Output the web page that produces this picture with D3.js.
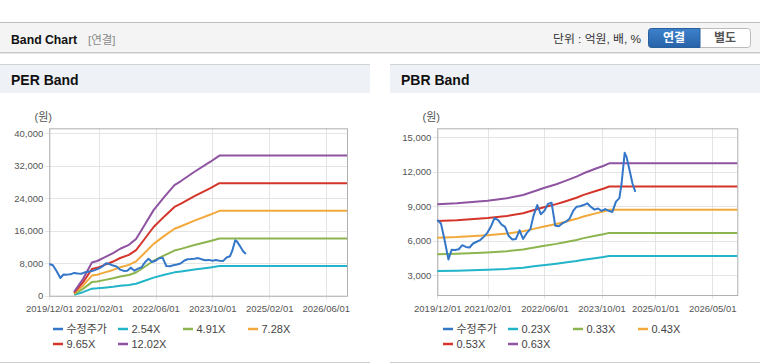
<!DOCTYPE html>
<html><head><meta charset="utf-8">
<script src="https://cdn.jsdelivr.net/npm/d3@7"></script>
<style>
body{margin:0;background:#fff;}
svg{display:block;font-family:'Liberation Sans','Noto Sans CJK KR',sans-serif;}
</style>
</head><body><svg id="c" width="760" height="364"></svg>
<script>
// ---------------- DATA ----------------
const priceDates = ["2019-12-01","2020-01-01","2020-02-01","2020-03-05","2020-04-01","2020-05-01","2020-06-01","2020-07-01","2020-08-01","2020-09-01","2020-10-01","2020-11-01","2020-12-01","2021-01-01","2021-02-01","2021-03-01","2021-04-01","2021-05-01","2021-06-01","2021-07-01","2021-08-01","2021-09-01","2021-10-01","2021-11-01","2021-12-01","2022-01-01","2022-02-01","2022-03-01","2022-04-01","2022-05-01","2022-06-01","2022-07-01","2022-08-01","2022-09-01","2022-10-01","2022-11-01","2022-12-01","2023-01-01","2023-02-01","2023-03-01","2023-04-01","2023-05-01","2023-06-01","2023-07-01","2023-08-01","2023-09-01","2023-10-01","2023-11-01","2023-12-01","2024-01-01","2024-02-01","2024-03-01","2024-03-20","2024-04-15","2024-05-01","2024-06-01","2024-06-20","2024-07-15"];
const priceValues = [7800,7500,6050,4350,5200,5180,5250,5600,5450,5400,5750,5900,6050,6350,6700,7200,7950,7800,7400,7200,6400,6100,6150,6900,6150,6650,7000,8200,9100,8300,8600,9200,9300,7300,7250,7500,7650,7900,8600,8950,9000,9100,9250,8950,8700,8800,8600,8750,8600,8500,9400,9700,11000,13650,13300,11900,11000,10250];

const perBandDates = ["2020-07-01","2020-09-15","2020-12-01","2021-01-15","2021-03-15","2021-06-01","2021-08-01","2021-10-15","2021-12-15","2022-02-15","2022-05-15","2022-08-15","2022-11-10","2023-01-05","2023-05-01","2023-09-15","2023-12-01","2026-12-01"];
const perBand254 = [203,864,1727,1803,1981,2210,2438,2642,2946,3556,4445,5131,5740,5956,6439,6960,7277,7277];
const perBand491 = [393,1669,3339,3486,3830,4272,4714,5106,5696,6874,8593,9918,11097,11514,12447,13453,14067,14067];
const perBand728 = [582,2475,4950,5169,5678,6334,6989,7571,8445,10192,12740,14706,16453,17072,18455,19947,20857,20857];
const perBand965 = [772,3281,6562,6852,7527,8396,9264,10036,11194,13510,16888,19493,21809,22629,24463,26441,27647,27647];
const perBand1202 = [962,4087,8174,8534,9376,10457,11539,12501,13943,16828,21035,24280,27165,28187,30471,32935,34437,34437];
const perLabels = ["수정주가","2.54X","4.91X","7.28X","9.65X","12.02X"];

const pbrBandDates = ["2019-12-01","2020-05-15","2021-02-01","2021-07-15","2021-12-01","2022-03-20","2022-05-20","2022-09-10","2022-11-10","2023-03-01","2023-05-01","2023-08-20","2023-10-15","2023-12-05","2026-12-01"];
const pbrBand023 = [3347,3379,3462,3537,3641,3779,3855,3984,4066,4225,4333,4492,4566,4651,4651];
const pbrBand033 = [4802,4848,4967,5075,5224,5422,5531,5716,5834,6062,6217,6445,6551,6673,6673];
const pbrBand043 = [6257,6317,6472,6613,6807,7065,7207,7448,7602,7899,8101,8398,8536,8695,8695];
const pbrBand053 = [7712,7786,7977,8151,8390,8708,8883,9180,9370,9736,9985,10351,10521,10717,10717];
const pbrBand063 = [9167,9255,9482,9689,9973,10351,10559,10912,11138,11573,11869,12304,12506,12739,12739];
const pbrLabels = ["수정주가","0.23X","0.33X","0.43X","0.53X","0.63X"];

const perYTicks = [0,8000,16000,24000,32000,40000];
const perXTicks = ["2019/12/01","2021/02/01","2022/06/01","2023/10/01","2025/02/01","2026/06/01"];
const pbrYTicks = [3000,6000,9000,12000,15000];
const pbrXTicks = ["2019/12/01","2021/02/01","2022/06/01","2023/10/01","2025/01/01","2026/05/01"];

const colors = ["#3477c9","#22b5c9","#8cb54f","#f2a93b","#d4352b","#8e53a1"];

// ---------------- DRAW ----------------
const svg = d3.select("#c");
svg.append("rect").attr("width",760).attr("height",364).attr("fill","#fff");

// top header bar
svg.append("rect").attr("x",0).attr("y",22).attr("width",760).attr("height",31).attr("fill","#f4f4f4");
svg.append("line").attr("x1",0).attr("x2",760).attr("y1",22.5).attr("y2",22.5).attr("stroke","#bdbdbd");
svg.append("line").attr("x1",0).attr("x2",760).attr("y1",52.5).attr("y2",52.5).attr("stroke","#c9c9c9");
svg.append("line").attr("x1",0).attr("x2",760).attr("y1",53.5).attr("y2",53.5).attr("stroke","#e6e6e6");
svg.append("text").attr("x",11).attr("y",44).attr("font-size",13.5).attr("font-weight","bold")
  .attr("fill","#111").attr("textLength",66).attr("lengthAdjust","spacingAndGlyphs").text("Band Chart");
svg.append("text").attr("x",88).attr("y",43.5).attr("font-size",11.5).attr("fill","#8a8a8a").text("[연결]");
svg.append("text").attr("x",553).attr("y",43).attr("font-size",11.5).attr("fill","#333")
  .attr("textLength",88).attr("lengthAdjust","spacingAndGlyphs").text("단위 : 억원, 배, %");
const defs = svg.append("defs");
const grad = defs.append("linearGradient").attr("id","btn").attr("x1",0).attr("x2",0).attr("y1",0).attr("y2",1);
grad.append("stop").attr("offset","0%").attr("stop-color","#3d82cc");
grad.append("stop").attr("offset","100%").attr("stop-color","#2762a8");
svg.append("rect").attr("x",648.5).attr("y",28.5).attr("width",102).attr("height",19).attr("rx",3)
  .attr("fill","#fff").attr("stroke","#bbb");
svg.append("path").attr("d","M651.5,28.5 H700 V47.5 H651.5 Q648.5,47.5 648.5,44.5 V31.5 Q648.5,28.5 651.5,28.5 Z")
  .attr("fill","url(#btn)").attr("stroke","#2a5f9e");
svg.append("text").attr("x",674).attr("y",42).attr("text-anchor","middle").attr("font-size",12)
  .attr("font-weight","bold").attr("fill","#fff").text("연결");
svg.append("text").attr("x",725).attr("y",42).attr("text-anchor","middle").attr("font-size",12)
  .attr("font-weight","bold").attr("fill","#555").text("별도");

const parseD = d3.timeParse("%Y-%m-%d");
const parseT = d3.timeParse("%Y/%m/%d");

function panel(cfg){
  const g = svg.append("g");
  const x0 = cfg.px;
  g.append("rect").attr("x",x0).attr("y",64).attr("width",cfg.pw).attr("height",29).attr("fill","#eef2f7");
  g.append("line").attr("x1",x0).attr("x2",x0+cfg.pw).attr("y1",64.5).attr("y2",64.5).attr("stroke","#d3d3d3");
  g.append("line").attr("x1",x0).attr("x2",x0+cfg.pw).attr("y1",362.5).attr("y2",362.5).attr("stroke","#cfcfcf");
  g.append("text").attr("x",x0+11).attr("y",85).attr("font-size",14).attr("font-weight","bold")
    .attr("fill","#111").text(cfg.title);

  const x = d3.scaleTime().domain([parseD("2019-12-01"),parseD("2026-12-01")]).range([cfg.left,cfg.right]);
  const y = d3.scaleLinear().domain(cfg.yDomain).range([cfg.bottom,cfg.top]);

  // grid
  const xt = cfg.xTicks.map(parseT);
  g.append("g").selectAll("line").data(xt).join("line")
    .attr("x1",d=>Math.round(x(d))+0.5).attr("x2",d=>Math.round(x(d))+0.5)
    .attr("y1",cfg.top).attr("y2",cfg.bottom+4).attr("stroke","#e4e4e4");
  g.append("g").selectAll("line").data(cfg.yTicks).join("line")
    .attr("x1",cfg.left-4).attr("x2",cfg.right)
    .attr("y1",d=>Math.round(y(d))+0.5).attr("y2",d=>Math.round(y(d))+0.5).attr("stroke","#e4e4e4");

  // axes via d3
  const fmt = d3.format(",");
  const ya = g.append("g").attr("transform",`translate(${cfg.left},0)`)
    .call(d3.axisLeft(y).tickValues(cfg.yTicks).tickFormat(fmt).tickSize(0).tickPadding(6));
  ya.select(".domain").remove();
  ya.selectAll("text").attr("font-size",9.5).attr("fill","#555").attr("font-family","'Liberation Sans',sans-serif");
  const xa = g.append("g").attr("transform",`translate(0,${cfg.bottom})`)
    .call(d3.axisBottom(x).tickValues(xt).tickFormat(d3.timeFormat("%Y/%m/%d")).tickSize(0).tickPadding(10));
  xa.select(".domain").remove();
  xa.selectAll("text").attr("font-size",9.5).attr("fill","#555").attr("font-family","'Liberation Sans',sans-serif");

  // frame
  g.append("rect").attr("x",cfg.left+0.5).attr("y",cfg.top+0.5)
    .attr("width",cfg.right-cfg.left).attr("height",cfg.bottom-cfg.top)
    .attr("fill","none").attr("stroke","#b0b0b0");

  g.append("text").attr("x",cfg.left-6).attr("y",121).attr("font-size",11).attr("fill","#555")
    .attr("text-anchor","middle").text("(원)");

  const line = d3.line().x(d=>x(d[0])).y(d=>y(d[1]));
  const bd = cfg.bandDates.map(parseD);
  cfg.bands.forEach((vals,i)=>{
    g.append("path").datum(bd.map((d,j)=>[d,vals[j]])).attr("d",line)
      .attr("fill","none").attr("stroke",colors[i+1]).attr("stroke-width",2).attr("stroke-linejoin","round");
  });
  const pd = priceDates.map(parseD);
  g.append("path").datum(pd.map((d,j)=>[d,priceValues[j]])).attr("d",line)
    .attr("fill","none").attr("stroke",colors[0]).attr("stroke-width",2).attr("stroke-linejoin","round");

  // legend
  const cols = [53,118,183,248];
  cfg.labels.forEach((lab,i)=>{
    const cx = x0 + cols[i%4];
    const cy = 329 + Math.floor(i/4)*15;
    g.append("line").attr("x1",cx).attr("x2",cx+10).attr("y1",cy).attr("y2",cy)
      .attr("stroke",colors[i]).attr("stroke-width",2.5);
    g.append("text").attr("x",cx+13.5).attr("y",cy+4).attr("font-size",11).attr("fill","#444").text(lab);
  });
}

panel({px:0,pw:370,title:"PER Band",left:49.3,right:347,top:128.3,bottom:295.7,
  yDomain:[0,41150],yTicks:perYTicks,xTicks:perXTicks,bandDates:perBandDates,
  bands:[perBand254,perBand491,perBand728,perBand965,perBand1202],labels:perLabels});
panel({px:390,pw:370,title:"PBR Band",left:437.3,right:737.3,top:128.3,bottom:295,
  yDomain:[1260,15790],yTicks:pbrYTicks,xTicks:pbrXTicks,bandDates:pbrBandDates,
  bands:[pbrBand023,pbrBand033,pbrBand043,pbrBand053,pbrBand063],labels:pbrLabels});
</script></body></html>
